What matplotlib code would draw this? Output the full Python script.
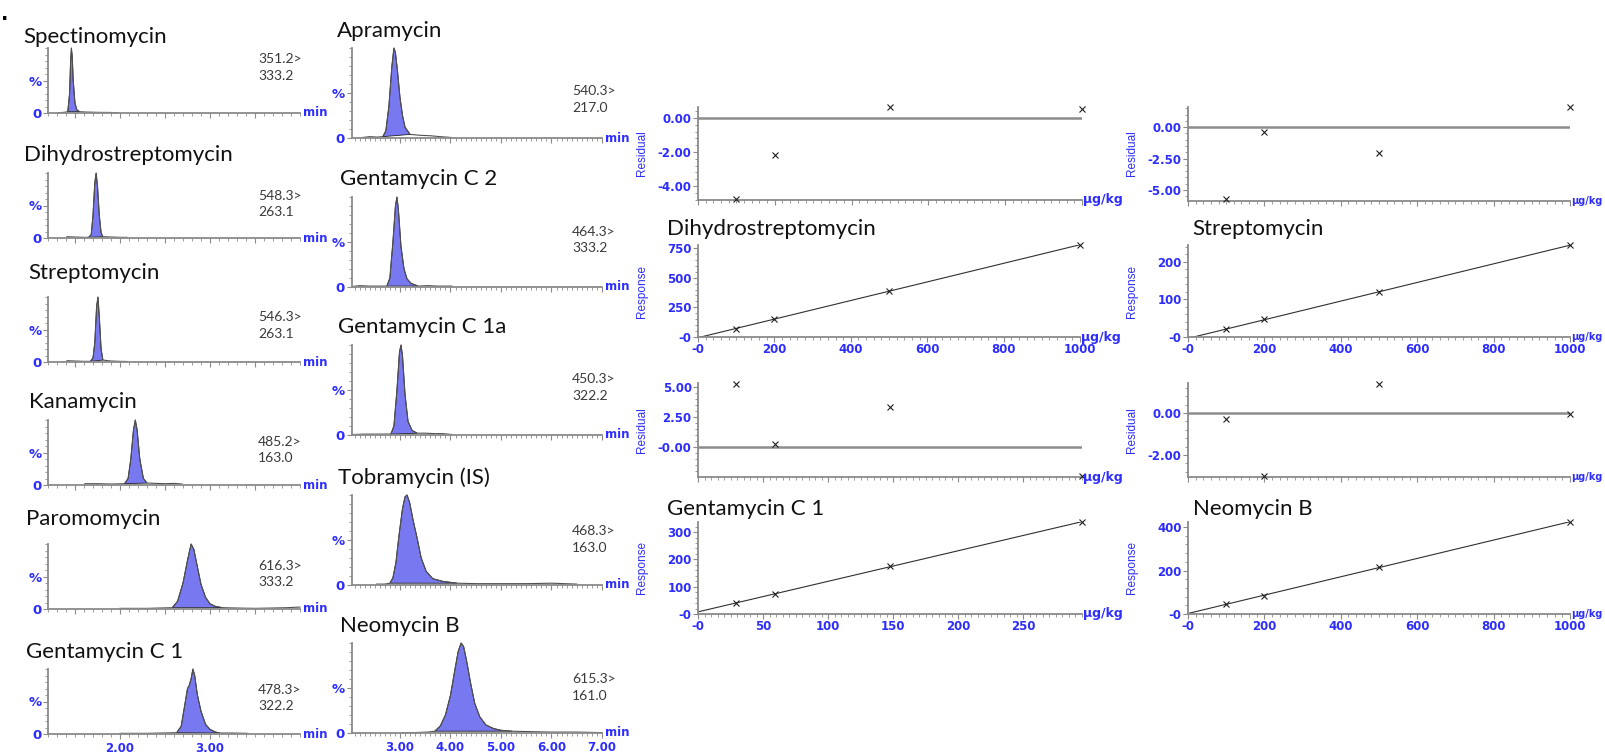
import numpy as np
import matplotlib
matplotlib.use("Agg")
import matplotlib.pyplot as plt
from matplotlib.ticker import MultipleLocator, FixedLocator, AutoMinorLocator

# ── DATA: chromatograms (time in min, intensity in %) ──────────────
spec_t = [1.31, 1.36, 1.40, 1.42, 1.44, 1.45, 1.46, 1.47, 1.48, 1.50, 1.52, 1.55, 1.62, 1.75, 1.90, 1.98]
spec_i = [0.5, 0.8, 1.5, 2, 30, 75, 100, 85, 50, 15, 5, 2, 1.5, 1, 0.8, 0.5]

dhs_t = [1.41, 1.50, 1.60, 1.65, 1.68, 1.70, 1.72, 1.735, 1.75, 1.77, 1.79, 1.81, 1.90, 2.00, 2.08]
dhs_i = [2, 1.5, 1, 1, 5, 35, 85, 100, 80, 35, 8, 2, 1.5, 1, 1]

str_t = [1.41, 1.50, 1.60, 1.67, 1.70, 1.72, 1.74, 1.755, 1.77, 1.79, 1.81, 1.90, 2.00, 2.08]
str_i = [2, 1.5, 1, 1, 6, 30, 85, 100, 70, 20, 3, 1.5, 1, 0.8]

kan_t = [1.61, 1.75, 1.90, 2.05, 2.09, 2.12, 2.15, 2.17, 2.19, 2.22, 2.26, 2.30, 2.40, 2.50, 2.60, 2.69]
kan_i = [2, 2, 1.5, 2, 10, 40, 85, 100, 85, 40, 10, 3, 2.5, 2, 2.5, 1.5]

par_t = [2.00, 2.30, 2.58, 2.64, 2.70, 2.75, 2.79, 2.82, 2.86, 2.90, 2.95, 3.00, 3.06, 3.14, 3.30, 3.50, 3.70, 3.85, 4.00]
par_i = [1, 1, 2, 12, 40, 75, 100, 92, 65, 38, 18, 8, 4, 2, 1.5, 1, 1.5, 2, 3]

gc1_t = [2.00, 2.30, 2.63, 2.68, 2.72, 2.75, 2.77, 2.79, 2.81, 2.83, 2.86, 2.90, 2.95, 3.00, 3.06, 3.11, 3.25, 3.42]
gc1_i = [1, 1, 2, 12, 45, 70, 75, 85, 100, 90, 60, 35, 15, 7, 3, 1.5, 1.5, 1]

apr_t = [2.25, 2.40, 2.55, 2.66, 2.72, 2.78, 2.84, 2.88, 2.91, 2.95, 3.00, 3.05, 3.10, 3.20, 3.40, 3.60, 3.80, 4.03]
apr_i = [0.5, 1.5, 1, 1.5, 8, 35, 80, 100, 95, 75, 45, 25, 12, 4, 3, 2.5, 1.5, 0.5]

gc2_t = [2.05, 2.20, 2.40, 2.60, 2.74, 2.80, 2.86, 2.91, 2.94, 2.97, 3.02, 3.08, 3.14, 3.22, 3.36, 3.55, 3.75, 4.03]
gc2_i = [0.5, 1.5, 1, 1, 1, 10, 50, 90, 100, 85, 45, 20, 9, 4, 1, 1.5, 1, 1]

gc1a_t = [2.05, 2.30, 2.55, 2.82, 2.88, 2.94, 2.99, 3.02, 3.05, 3.10, 3.16, 3.24, 3.34, 3.50, 3.70, 3.85, 4.03]
gc1a_i = [0.5, 1, 1, 1, 10, 50, 92, 100, 88, 45, 15, 5, 2, 2, 1.5, 1.5, 0.5]

tob_t = [2.54, 2.70, 2.80, 2.86, 2.92, 2.98, 3.05, 3.10, 3.14, 3.19, 3.26, 3.34, 3.42, 3.52, 3.65, 3.85, 4.13,
         4.50, 5.00, 5.50, 6.00, 6.50]
tob_i = [1, 1, 2, 8, 25, 55, 85, 98, 100, 92, 72, 52, 30, 15, 7, 4, 2, 1.5, 1.5, 1.5, 2, 1]

neo_t = [3.04, 3.30, 3.55, 3.69, 3.80, 3.90, 4.00, 4.08, 4.15, 4.21, 4.26, 4.32, 4.40, 4.48, 4.58, 4.70, 4.85,
         5.00, 5.22, 5.60, 6.00, 6.50, 7.00]
neo_i = [0.5, 0.5, 1, 2, 8, 20, 42, 68, 90, 100, 96, 80, 55, 33, 18, 9, 5, 3, 2, 1.5, 1, 1, 0.5]

# name, transition, times, intensities, peak start, peak end
left_chroms = [
    ("Spectinomycin", "351.2>\n333.2", spec_t, spec_i, 1.42, 1.55),
    ("Dihydrostreptomycin", "548.3>\n263.1", dhs_t, dhs_i, 1.65, 1.81),
    ("Streptomycin", "546.3>\n263.1", str_t, str_i, 1.67, 1.81),
    ("Kanamycin", "485.2>\n163.0", kan_t, kan_i, 2.05, 2.30),
    ("Paromomycin", "616.3>\n333.2", par_t, par_i, 2.58, 3.14),
    ("Gentamycin C 1", "478.3>\n322.2", gc1_t, gc1_i, 2.63, 3.11),
]
mid_chroms = [
    ("Apramycin", "540.3>\n217.0", apr_t, apr_i, 2.66, 3.20),
    ("Gentamycin C 2", "464.3>\n333.2", gc2_t, gc2_i, 2.74, 3.36),
    ("Gentamycin C 1a", "450.3>\n322.2", gc1a_t, gc1a_i, 2.82, 3.34),
    ("Tobramycin (IS)", "468.3>\n163.0", tob_t, tob_i, 2.80, 4.13),
    ("Neomycin B", "615.3>\n161.0", neo_t, neo_i, 3.69, 5.22),
]

# ── DATA: calibration (µg/kg, response, residual) ──────────────────
conc_std = [100, 200, 500, 1000]
conc_gc1 = [29.5, 59, 147.5, 295]

resid_top = [-4.76, -2.18, 0.65, 0.53]
resp_dhs = [68, 153, 390, 775]
resid_dhs = [-5.75, -0.4, -2.07, 1.6]
resp_str = [21, 47, 119, 245]
resid_gc1 = [5.28, 0.3, 3.3, -2.4]
resp_gc1 = [40, 73, 176, 337]
resid_neo = [-0.3, -3.0, 1.4, -0.05]
resp_neo = [45, 84, 217, 423]

ticks1000 = [0, 200, 400, 600, 800, 1000]
lab1000 = ["-0", "200", "400", "600", "800", "1000"]
ticks295 = [0, 50, 100, 150, 200, 250]
lab295 = ["-0", "50", "100", "150", "200", "250"]

# ── LAYOUT ─────────────────────────────────────────────────────────
W, H = 1606, 752
BLUE = "#2d2dff"
GREY = "#8a8a8a"
FILL = "#7878f0"
TITLE_FONT = ["Lato", "DejaVu Sans"]

fig = plt.figure(figsize=(W / 100, H / 100), dpi=100)


def px_axes(x0, y0, x1, y1):
    return fig.add_axes([x0 / W, 1 - y1 / H, (x1 - x0) / W, (y1 - y0) / H])


def px_text(x, y, s, **kw):
    return fig.text(x / W, 1 - y / H, s, **kw)


def style_spines(ax):
    for side in ("top", "right"):
        ax.spines[side].set_visible(False)
    for side in ("left", "bottom"):
        ax.spines[side].set_color(GREY)
        ax.spines[side].set_linewidth(1.3)
    ax.patch.set_alpha(0)
    ax.tick_params(which="both", colors=GREY, labelcolor=BLUE, direction="out")
    ax.tick_params(which="major", length=3.5, width=0.8)
    ax.tick_params(which="minor", length=2, width=0.6)
    for lab in ax.get_xticklabels() + ax.get_yticklabels():
        lab.set_fontweight("bold")


def chrom(ax, t, y, start, end, xlim, xticks, show_labels, pad):
    t = np.asarray(t)
    y = np.asarray(y)
    sel = (t >= start) & (t <= end)
    ax.fill(t[sel], y[sel], facecolor=FILL, edgecolor="#202020", lw=0.6, clip_on=False)
    ax.plot(t, y, color="#505050", lw=0.8, clip_on=False)
    ax.set_xlim(*xlim)
    ax.set_ylim(0, 100)
    ax.yaxis.set_major_locator(FixedLocator([0, 50]))
    ax.set_yticklabels(["0", "%"])
    ax.yaxis.set_minor_locator(MultipleLocator(10))
    ax.xaxis.set_major_locator(FixedLocator(xticks))
    ax.xaxis.set_minor_locator(MultipleLocator(0.1))
    if show_labels:
        ax.set_xticklabels(["%.2f" % v for v in xticks])
    else:
        ax.set_xticklabels([])
    ax.tick_params(axis="y", labelsize=9.5, pad=pad)
    ax.tick_params(axis="x", labelsize=8.5, pad=2)
    style_spines(ax)
    ax.text(1.012, 0, "min", transform=ax.transAxes, color=BLUE, fontsize=8.5,
            fontweight="bold", va="center", ha="left")


# left column chromatograms: axis bottom px, title (x, baseline), transition offset
left_bottoms = [113, 238, 362, 485, 609, 734]
left_title_pos = [(23, 43), (24, 161), (28, 279), (29, 408), (26, 525), (26, 658)]
left_mass_off = [53, 41, 44, 42, 42, 43]
for k, (name, mz, t, y, s, e) in enumerate(left_chroms):
    b = left_bottoms[k]
    last = k == len(left_chroms) - 1
    ax = px_axes(48, b - 65, 300, b)
    chrom(ax, t, y, s, e, (1.2, 4.0), [2.0, 3.0] if last else [1.5, 2.0, 2.5, 3.0, 3.5], last, 1)
    px_text(*left_title_pos[k], name, fontsize=16, family=TITLE_FONT, va="baseline", color="#111111")
    px_text(258, b - left_mass_off[k] - 7, mz, fontsize=10, family=TITLE_FONT, va="top",
            color="#3a3a3a", linespacing=1.45)

mid_bottoms = [138, 287, 435, 585, 733]
mid_title_pos = [(337, 37), (340, 185), (338, 333), (338, 484), (340, 632)]
mid_mass_off = [46, 54, 55, 53, 53]
for k, (name, mz, t, y, s, e) in enumerate(mid_chroms):
    b = mid_bottoms[k]
    ax = px_axes(352, b - 90, 602, b)
    chrom(ax, t, y, s, e, (2.05, 7.0), [3.0, 4.0, 5.0, 6.0, 7.0], k == len(mid_chroms) - 1, 2)
    px_text(*mid_title_pos[k], name, fontsize=16, family=TITLE_FONT, va="baseline", color="#111111")
    px_text(572, b - mid_mass_off[k] - 7, mz, fontsize=10, family=TITLE_FONT, va="top",
            color="#3a3a3a", linespacing=1.45)


# ── calibration panels ─────────────────────────────────────────────
def calib(ax, x, v, xlim, ylim, yticks, ylabels, xticks, xminor, xlabels, resid, unit_size=9):
    if resid:
        ax.axhline(0, color="#8c8c8c", lw=1.8, zorder=1)
    else:
        coef = np.polyfit(x, v, 1)
        xs = np.array([0, xlim[1]])
        ax.plot(xs, np.polyval(coef, xs), color="#303030", lw=0.8, zorder=2)
    ax.plot(x, v, "x", color="#202020", ms=4.5, mew=0.8, clip_on=False, zorder=3)
    ax.set_xlim(*xlim)
    ax.set_ylim(*ylim)
    ax.yaxis.set_major_locator(FixedLocator(yticks))
    ax.set_yticklabels(ylabels)
    ax.yaxis.set_minor_locator(AutoMinorLocator(5))
    ax.xaxis.set_major_locator(FixedLocator(xticks))
    ax.xaxis.set_minor_locator(MultipleLocator(xminor))
    ax.set_xticklabels(xlabels if xlabels else [])
    ax.tick_params(labelsize=8.5, pad=1)
    style_spines(ax)
    ax.text(1.003, 0, "µg/kg", transform=ax.transAxes, color=BLUE, fontsize=unit_size,
            fontweight="bold", va="center", ha="left")


# row 1, left
ax = px_axes(698, 107, 1082, 200)
calib(ax, conc_std, resid_top, (0, 1000), (-4.82, 0.65), [0, -2, -4], ["0.00", "-2.00", "-4.00"],
      ticks1000, 20, None, True)
ax = px_axes(698, 245, 1080, 337)
calib(ax, conc_std, resp_dhs, (0, 1000), (0, 775), [0, 250, 500, 750], ["-0", "250", "500", "750"],
      ticks1000, 20, lab1000, False)
# row 1, right
ax = px_axes(1188, 107, 1570, 201)
calib(ax, conc_std, resid_dhs, (0, 1000), (-5.87, 1.6), [0, -2.5, -5], ["0.00", "-2.50", "-5.00"],
      ticks1000, 20, None, True, 7)
ax = px_axes(1188, 245, 1570, 337)
calib(ax, conc_std, resp_str, (0, 1000), (0, 245), [0, 100, 200], ["-0", "100", "200"],
      ticks1000, 20, lab1000, False, 7)
# row 2, left
ax = px_axes(698, 383, 1082, 477)
calib(ax, conc_gc1, resid_gc1, (0, 295), (-2.46, 5.33), [5, 2.5, 0], ["5.00", "2.50", "-0.00"],
      ticks295, 5, None, True)
ax = px_axes(698, 522, 1082, 614)
calib(ax, conc_gc1, resp_gc1, (0, 295), (0, 337), [0, 100, 200, 300], ["-0", "100", "200", "300"],
      ticks295, 5, lab295, False)
# row 2, right
ax = px_axes(1188, 383, 1570, 477)
calib(ax, conc_std, resid_neo, (0, 1000), (-3.05, 1.43), [0, -2], ["0.00", "-2.00"],
      ticks1000, 20, None, True, 7)
ax = px_axes(1188, 522, 1570, 614)
calib(ax, conc_std, resp_neo, (0, 1000), (0, 423), [0, 200, 400], ["-0", "200", "400"],
      ticks1000, 20, lab1000, False, 7)

# axis names
for xc in (642, 1132):
    for yc, lab in ((153, "Residual"), (291, "Response"), (430, "Residual"), (568, "Response")):
        px_text(xc, yc, lab, rotation=90, ha="center", va="center", color=BLUE, fontsize=8.5,
                family=["Liberation Sans", "DejaVu Sans"])

# calibration titles
cal_titles = [("Dihydrostreptomycin", 667, 235), ("Streptomycin", 1192, 235),
              ("Gentamycin C 1", 667, 515), ("Neomycin B", 1193, 515)]
for name, x, y in cal_titles:
    px_text(x, y, name, fontsize=16, family=TITLE_FONT, va="baseline", color="#111111")

px_text(1, 20, ".", fontsize=14, fontweight="bold", va="baseline", color="black")

fig.savefig("out.png", dpi=100)
